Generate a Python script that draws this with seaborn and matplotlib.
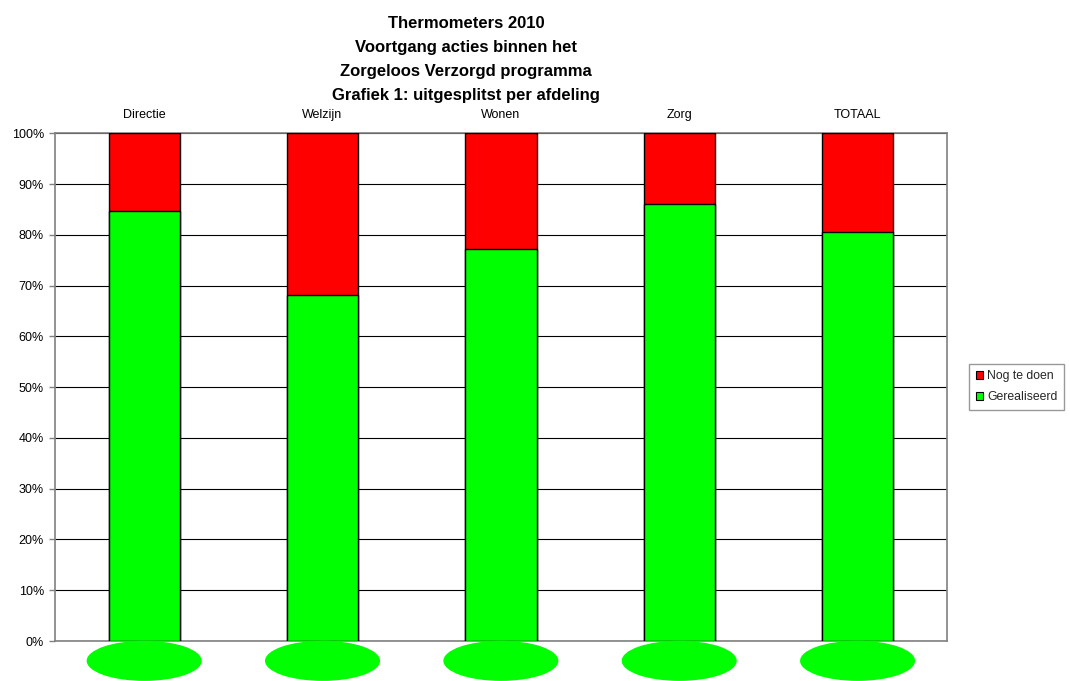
import matplotlib
matplotlib.use("Agg")
import matplotlib.pyplot as plt
from matplotlib.patches import Ellipse, Patch
import seaborn as sns
import pandas as pd

# Progress per department (percent of actions)
afdelingen = ["Directie", "Welzijn", "Wonen", "Zorg", "TOTAAL"]
gerealiseerd = [84.7, 68.2, 77.2, 86.0, 80.6]
nog_te_doen = [15.3, 31.8, 22.8, 14.0, 19.4]
y_ticks = [0, 10, 20, 30, 40, 50, 60, 70, 80, 90, 100]

GREEN = "#00FF00"
RED = "#FF0000"

sns.set_theme(style="white")
plt.rcParams["font.family"] = ["Liberation Sans", "DejaVu Sans"]

df = pd.DataFrame({
    "afdeling": afdelingen,
    "gerealiseerd": gerealiseerd,
    "totaal": [g + n for g, n in zip(gerealiseerd, nog_te_doen)],
})

fig = plt.figure(figsize=(10.7, 6.81), dpi=100)
ax = fig.add_axes([0.0514, 0.0587, 0.8334, 0.7455])

# Stacked columns: full height in red, realised part in green on top of it
sns.barplot(data=df, x="afdeling", y="totaal", color=RED, saturation=1,
            width=0.4, edgecolor="black", linewidth=1.0, ax=ax, zorder=3)
sns.barplot(data=df, x="afdeling", y="gerealiseerd", color=GREEN, saturation=1,
            width=0.4, edgecolor="black", linewidth=1.0, ax=ax, zorder=4)

# Thermometer bulbs below each column
for i, _ in enumerate(afdelingen):
    ax.add_patch(Ellipse((i, -3.9), width=0.645, height=7.9, facecolor=GREEN,
                         edgecolor="none", clip_on=False, zorder=5))

ax.set_ylim(0, 100)
ax.set_xlim(-0.5, len(afdelingen) - 0.5)
ax.set_yticks(y_ticks)
ax.set_yticklabels([f"{t}%" for t in y_ticks], fontsize=9, color="black")
ax.yaxis.grid(True, color="black", linewidth=0.8, zorder=0)
ax.set_axisbelow(True)
ax.tick_params(axis="y", left=True, length=4, width=1, color="#808080", pad=4)

ax.xaxis.tick_top()
ax.tick_params(axis="x", top=False, bottom=False, length=0, pad=9,
               labelsize=9, labelcolor="black")
ax.set_xlabel("")
ax.set_ylabel("")

for side in ["left", "right", "top", "bottom"]:
    ax.spines[side].set_visible(True)
    ax.spines[side].set_color("#808080")
    ax.spines[side].set_linewidth(1.2)

fig.text(0.4355, 0.976,
         "Thermometers 2010\nVoortgang acties binnen het\nZorgeloos Verzorgd programma\nGrafiek 1: uitgesplitst per afdeling",
         ha="center", va="top", fontsize=12, fontweight="bold",
         linespacing=1.74, color="black")

handles = [Patch(facecolor=RED, edgecolor="black", linewidth=0.8, label="Nog te doen"),
           Patch(facecolor=GREEN, edgecolor="black", linewidth=0.8, label="Gerealiseerd")]
leg = fig.legend(handles=handles, loc="center", bbox_to_anchor=(0.950, 0.432),
                 fontsize=8.8, frameon=True, fancybox=False, handlelength=0.65,
                 handleheight=0.65, handletextpad=0.3, borderpad=0.55,
                 labelspacing=0.75)
leg.get_frame().set_edgecolor("#808080")
leg.get_frame().set_linewidth(1.0)

fig.savefig("out.png", dpi=100)
